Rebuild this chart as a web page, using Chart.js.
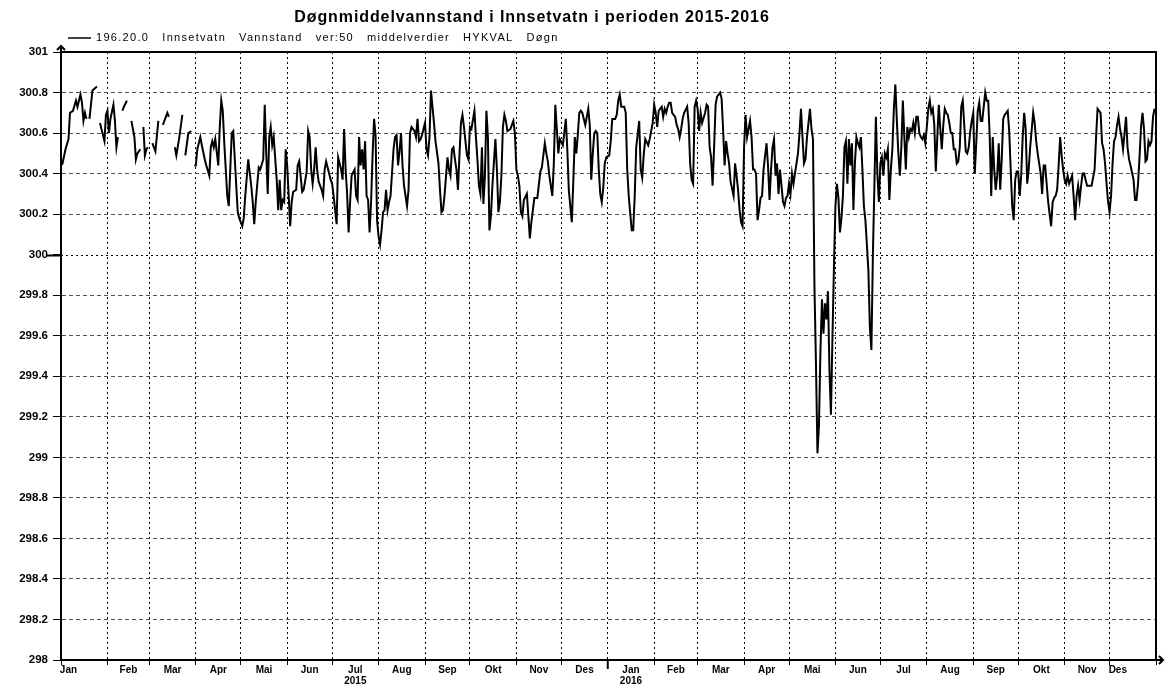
<!DOCTYPE html>
<html>
<head>
<meta charset="utf-8">
<title>Innsetvatn vannstand 2015-2016</title>
<script src="https://cdn.jsdelivr.net/npm/chart.js@4.4.1/dist/chart.umd.min.js"></script>
<style>
  html, body { margin: 0; padding: 0; background: #fff; }
  #wrap { width: 1165px; height: 684px; position: relative; }
</style>
</head>
<body>
<div id="wrap"><canvas id="levelChart"></canvas></div>
<script>
// --- Data (day index counted from 2015-01-01, null = missing data) ---
const chartTitle = 'Døgnmiddelvannstand i Innsetvatn i perioden 2015-2016';
const seriesName = '196.20.0   Innsetvatn   Vannstand   ver:50   middelverdier   HYKVAL   Døgn';

const monthNames = ['Jan', 'Feb', 'Mar', 'Apr', 'Mai', 'Jun', 'Jul', 'Aug', 'Sep', 'Okt', 'Nov', 'Des'];
const monthStarts = [0, 31, 59, 90, 120, 151, 181, 212, 243, 273, 304, 334,
                     365, 396, 425, 456, 486, 517, 547, 578, 609, 639, 670, 700, 731];
const yearLabels = { 6: '2015', 12: '2016' };   // month number (from Jan 2015) -> year text

const days = [
  0, 1, 3, 5, 6, 8, 10, 11, 13, 14, 15, 16, 17, 18, 19, 21, 24, 25, 26, 27, 29, 30,
  31, 32, 33, 35, 36, 37, 38, 39, 41, 42, 44, 45, 47, 49, 50, 51, 53, 54, 55, 56, 57, 58,
  59, 61, 63, 65, 66, 68, 70, 71, 72, 73, 76, 77, 79, 81, 82, 83, 85, 87, 88, 89,
  90, 91, 93, 94, 96, 97, 99, 100, 101, 102, 103, 105, 106, 107, 108, 109, 111, 112, 113, 114, 115, 117, 118, 119,
  120, 121, 122, 123, 125, 127, 128, 129, 130, 132, 133, 135, 136, 137, 138, 139, 140, 141, 142, 144, 145, 146, 147, 148, 149, 150,
  151, 153, 154, 155, 157, 158, 159, 161, 162, 164, 165, 166, 167, 168, 169, 170, 171, 172, 174, 175, 176, 177, 179, 180,
  181, 182, 184, 185, 187, 188, 189, 190, 191, 192, 193, 194, 196, 197, 198, 199, 200, 201, 202, 203, 204, 205, 206, 207, 208, 209, 210, 211,
  212, 213, 214, 215, 216, 217, 218, 219, 220, 222, 223, 224, 225, 226, 227, 228, 229, 231, 232, 233, 234, 236, 237, 238, 239, 240, 241,
  243, 244, 245, 246, 247, 248, 249, 250, 252, 253, 254, 255, 256, 258, 259, 260, 261, 262, 263, 264, 265, 266, 267, 268, 269, 271, 272,
  273, 274, 276, 277, 278, 279, 280, 281, 282, 283, 284, 285, 286, 287, 288, 290, 291, 292, 293, 294, 295, 296, 297, 298, 300, 301, 302, 303,
  304, 305, 306, 307, 308, 309, 311, 312, 313, 314, 315, 316, 318, 320, 321, 322, 323, 324, 325, 326, 327, 328, 329, 330, 331, 332, 333,
  335, 336, 337, 338, 339, 341, 342, 343, 344, 345, 346, 347, 348, 350, 351, 352, 353, 354, 355, 356, 357, 358, 359, 360, 361, 362, 363, 364,
  366, 367, 368, 370, 371, 372, 373, 374, 376, 377, 378, 379, 381, 382, 383, 384, 386, 387, 388, 389, 390, 392, 393, 394, 395,
  396, 397, 398, 399, 401, 402, 403, 404, 405, 406, 407, 408, 410, 411, 412, 413, 414, 415, 416, 418, 419, 420, 421, 422, 423, 424,
  425, 426, 427, 428, 430, 431, 432, 433, 434, 435, 436, 437, 438, 440, 441, 442, 443, 444, 445, 446, 447, 449, 450, 451, 452, 453, 454, 455,
  456, 457, 458, 459, 460, 461, 462, 463, 464, 465, 466, 467, 468, 469, 471, 472, 473, 474, 475, 476, 477, 478, 479, 480, 481, 482, 483, 484, 485,
  486, 487, 488, 489, 491, 492, 493, 494, 495, 496, 497, 498, 500, 501, 502, 503, 504, 505, 506, 507, 508, 509, 510, 511, 512, 513, 514, 515, 516,
  517, 518, 519, 520, 521, 522, 523, 524, 525, 526, 527, 528, 529, 530, 531, 532, 533, 534, 535, 536, 537, 538, 539, 540, 541, 542, 543, 544, 545, 546,
  547, 548, 549, 550, 551, 552, 553, 554, 555, 556, 557, 558, 559, 560, 561, 562, 563, 564, 565, 566, 567, 568, 569, 570, 571, 572, 573, 574, 575, 576, 577,
  578, 579, 580, 581, 582, 583, 584, 585, 586, 587, 588, 589, 590, 591, 592, 593, 594, 595, 596, 597, 598, 599, 600, 601, 602, 603, 604, 605, 606, 607, 608,
  609, 610, 611, 612, 613, 614, 615, 617, 618, 619, 620, 621, 622, 623, 624, 625, 626, 627, 628, 629, 630, 631, 632, 633, 634, 635, 636, 637, 638,
  639, 640, 641, 642, 643, 644, 645, 646, 647, 649, 650, 651, 652, 653, 654, 655, 656, 657, 658, 659, 661, 662, 663, 664, 665, 666, 667, 668, 669,
  670, 671, 672, 673, 674, 675, 676, 677, 678, 679, 680, 681, 682, 683, 684, 685, 686, 687, 688, 689, 690, 691, 692, 694, 695, 696, 697, 698, 699,
  700, 701, 702, 703, 704, 705, 706, 707, 708, 709, 710, 711, 712, 713, 714, 716, 717, 718, 719, 720, 721, 722, 723, 724, 725, 726, 727, 728, 729, 730
];

const level = [
  300.44, 300.45, 300.52, 300.57, 300.70, 300.71, 300.76, 300.73, 300.79, 300.75, 300.66, 300.70, 300.67, null, 300.67, 300.81, 300.83, null, 300.65, 300.62, 300.56, 300.69,
  300.71, 300.60, 300.67, 300.74, 300.66, 300.53, 300.58, null, 300.71, 300.73, 300.76, null, 300.66, 300.58, 300.47, 300.50, 300.52, null, 300.63, 300.49, 300.52, 300.53,
  null, 300.55, 300.51, 300.66, null, 300.64, 300.68, 300.70, 300.68, null, 300.53, 300.49, 300.58, 300.69, null, 300.49, 300.60, 300.61, null, 300.44,
  300.44, 300.52, 300.58, 300.54, 300.47, 300.44, 300.39, 300.53, 300.56, 300.53, 300.57, 300.44, 300.63, 300.76, 300.71, 300.55, 300.29, 300.24, 300.42, 300.60, 300.61, 300.34, 300.21, 300.18,
  300.16, 300.14, 300.18, 300.29, 300.47, 300.34, 300.26, 300.15, 300.26, 300.43, 300.42, 300.47, 300.74, 300.50, 300.30, 300.58, 300.63, 300.54, 300.58, 300.37, 300.22, 300.37, 300.22, 300.27, 300.26, 300.52,
  300.44, 300.14, 300.26, 300.31, 300.32, 300.44, 300.46, 300.31, 300.32, 300.41, 300.61, 300.58, 300.42, 300.35, 300.42, 300.53, 300.42, 300.36, 300.32, 300.29, 300.42, 300.46, 300.40, 300.37,
  300.35, 300.29, 300.15, 300.48, 300.42, 300.37, 300.62, 300.42, 300.30, 300.11, 300.26, 300.39, 300.42, 300.29, 300.27, 300.58, 300.44, 300.52, 300.42, 300.56, 300.29, 300.27, 300.11, 300.26, 300.49, 300.67, 300.59, 300.17,
  300.09, 300.05, 300.12, 300.21, 300.22, 300.32, 300.22, 300.26, 300.29, 300.52, 300.58, 300.59, 300.44, 300.51, 300.60, 300.44, 300.34, 300.24, 300.32, 300.60, 300.63, 300.61, 300.58, 300.67, 300.56, 300.57, 300.59,
  300.65, 300.52, 300.49, 300.58, 300.81, 300.73, 300.65, 300.56, 300.45, 300.32, 300.21, 300.22, 300.29, 300.48, 300.42, 300.39, 300.52, 300.53, 300.47, 300.42, 300.32, 300.49, 300.65, 300.69, 300.63, 300.49, 300.47,
  300.63, 300.62, 300.71, 300.58, 300.47, 300.34, 300.30, 300.53, 300.25, 300.39, 300.71, 300.58, 300.12, 300.19, 300.34, 300.57, 300.42, 300.21, 300.26, 300.39, 300.63, 300.69, 300.66, 300.61, 300.62, 300.64, 300.66, 300.60,
  300.42, 300.39, 300.34, 300.21, 300.19, 300.27, 300.30, 300.19, 300.08, 300.16, 300.22, 300.28, 300.28, 300.41, 300.43, 300.49, 300.55, 300.50, 300.46, 300.39, 300.34, 300.29, 300.45, 300.74, 300.62, 300.50, 300.57,
  300.54, 300.60, 300.67, 300.52, 300.32, 300.16, 300.36, 300.58, 300.50, 300.59, 300.70, 300.71, 300.70, 300.64, 300.68, 300.72, 300.64, 300.37, 300.50, 300.60, 300.61, 300.60, 300.42, 300.30, 300.26, 300.33, 300.45, 300.48,
  300.49, 300.56, 300.67, 300.67, 300.69, 300.76, 300.79, 300.73, 300.73, 300.70, 300.42, 300.29, 300.12, 300.12, 300.29, 300.53, 300.66, 300.42, 300.38, 300.49, 300.57, 300.54, 300.57, 300.61, 300.65,
  300.74, 300.70, 300.63, 300.71, 300.73, 300.68, 300.72, 300.70, 300.73, 300.75, 300.75, 300.70, 300.68, 300.64, 300.62, 300.58, 300.62, 300.67, 300.70, 300.73, 300.65, 300.45, 300.37, 300.35, 300.73, 300.76,
  300.72, 300.61, 300.70, 300.65, 300.70, 300.74, 300.73, 300.53, 300.48, 300.34, 300.53, 300.74, 300.78, 300.80, 300.77, 300.62, 300.44, 300.56, 300.50, 300.45, 300.36, 300.29, 300.45, 300.39, 300.32, 300.22, 300.16, 300.14,
  300.53, 300.69, 300.58, 300.62, 300.66, 300.58, 300.42, 300.42, 300.40, 300.17, 300.22, 300.28, 300.29, 300.42, 300.55, 300.44, 300.27, 300.42, 300.53, 300.57, 300.39, 300.45, 300.30, 300.42, 300.34, 300.26, 300.24, 300.28, 300.29,
  300.35, 300.30, 300.40, 300.35, 300.45, 300.50, 300.60, 300.72, 300.58, 300.45, 300.47, 300.58, 300.72, 300.62, 300.57, 299.84, 299.46, 299.02, 299.16, 299.53, 299.78, 299.61, 299.76, 299.68, 299.82, 299.43, 299.21, 299.59, 299.94,
  300.24, 300.35, 300.28, 300.11, 300.18, 300.29, 300.53, 300.56, 300.35, 300.57, 300.44, 300.55, 300.22, 300.45, 300.58, 300.55, 300.53, 300.58, 300.42, 300.24, 300.17, 300.05, 299.92, 299.64, 299.53, 300.00, 300.34, 300.68, 300.40, 300.26,
  300.45, 300.48, 300.39, 300.50, 300.48, 300.52, 300.27, 300.42, 300.52, 300.72, 300.84, 300.66, 300.50, 300.39, 300.53, 300.76, 300.58, 300.42, 300.63, 300.58, 300.62, 300.61, 300.65, 300.60, 300.68, 300.68, 300.60, 300.58, 300.57, 300.59, 300.55,
  300.63, 300.72, 300.76, 300.70, 300.72, 300.64, 300.41, 300.58, 300.74, 300.62, 300.52, 300.64, 300.72, 300.70, 300.69, 300.65, 300.60, 300.60, 300.52, 300.52, 300.45, 300.46, 300.53, 300.73, 300.76, 300.64, 300.51, 300.50, 300.53, 300.61, 300.66,
  300.70, 300.40, 300.55, 300.71, 300.75, 300.66, 300.66, 300.80, 300.76, 300.76, 300.58, 300.29, 300.58, 300.42, 300.32, 300.39, 300.55, 300.32, 300.47, 300.67, 300.69, 300.70, 300.71, 300.61, 300.42, 300.24, 300.17, 300.37, 300.41,
  300.41, 300.29, 300.39, 300.58, 300.70, 300.62, 300.35, 300.42, 300.53, 300.70, 300.65, 300.56, 300.50, 300.45, 300.40, 300.30, 300.44, 300.44, 300.35, 300.26, 300.14, 300.26, 300.28, 300.29, 300.32, 300.44, 300.58, 300.49, 300.42,
  300.37, 300.35, 300.39, 300.35, 300.37, 300.39, 300.29, 300.17, 300.29, 300.34, 300.27, 300.34, 300.40, 300.40, 300.37, 300.34, 300.34, 300.34, 300.34, 300.38, 300.42, 300.58, 300.72, 300.70, 300.55, 300.52, 300.45, 300.35, 300.26,
  300.21, 300.29, 300.45, 300.56, 300.58, 300.64, 300.68, 300.62, 300.58, 300.52, 300.60, 300.68, 300.53, 300.47, 300.44, 300.37, 300.27, 300.27, 300.35, 300.48, 300.63, 300.70, 300.62, 300.46, 300.47, 300.56, 300.54, 300.56, 300.68, 300.72
];

document.addEventListener('DOMContentLoaded', function() {
    const ctx = document.getElementById('levelChart');

    // month labels sit in the middle of each month, first/last pulled inwards
    const labelDays = [];
    const labelText = new Map();
    for (let m = 0; m < monthStarts.length - 1; m++) {
        let mid = (monthStarts[m] + monthStarts[m + 1]) / 2;
        if (m === 0) mid = monthStarts[0] + 5;
        if (m === monthStarts.length - 2) mid = monthStarts[m] + 5.5;
        labelDays.push(mid);
        const name = monthNames[m % 12];
        labelText.set(mid, yearLabels[m] ? [name, yearLabels[m]] : name);
    }
    const isMonthStart = v => monthStarts.includes(v);
    const near = (a, b) => Math.abs(a - b) < 1e-6;

    // frame, arrows, the dotted zero line, title and legend
    const framePlugin = {
        id: 'frame',
        beforeDatasetsDraw: chart => {
            const { ctx, chartArea: a, scales: { y } } = chart;
            const y300 = Math.round(y.getPixelForValue(300)) + 0.5;
            ctx.save();
            ctx.strokeStyle = '#000';
            ctx.lineWidth = 1;
            ctx.setLineDash([2, 3]);
            ctx.beginPath();
            ctx.moveTo(a.left, y300);
            ctx.lineTo(a.right, y300);
            ctx.stroke();
            ctx.setLineDash([]);
            ctx.lineWidth = 2;
            ctx.beginPath();
            ctx.moveTo(a.left - 14, y300);
            ctx.lineTo(a.left, y300);
            ctx.stroke();
            ctx.restore();
        },
        afterDraw: chart => {
            const { ctx, chartArea: a } = chart;
            ctx.save();
            ctx.strokeStyle = '#000';
            ctx.lineWidth = 2;
            ctx.beginPath();
            ctx.moveTo(a.left, a.top);
            ctx.lineTo(a.right, a.top);
            ctx.lineTo(a.right, a.bottom);
            ctx.stroke();

            // arrow on top of the y axis
            ctx.beginPath();
            ctx.moveTo(a.left, a.top);
            ctx.lineTo(a.left, a.top - 6);
            ctx.moveTo(a.left - 4, a.top - 2);
            ctx.lineTo(a.left, a.top - 6);
            ctx.lineTo(a.left + 4, a.top - 2);
            ctx.stroke();
            // arrow at the end of the x axis
            ctx.beginPath();
            ctx.moveTo(a.right, a.bottom);
            ctx.lineTo(a.right + 7, a.bottom);
            ctx.moveTo(a.right + 3, a.bottom - 4);
            ctx.lineTo(a.right + 7, a.bottom);
            ctx.lineTo(a.right + 3, a.bottom + 4);
            ctx.stroke();
            // long tick at the year change
            const x2016 = chart.scales.x.getPixelForValue(365);
            ctx.beginPath();
            ctx.moveTo(x2016, a.bottom);
            ctx.lineTo(x2016, a.bottom + 9);
            ctx.stroke();

            // title
            ctx.fillStyle = '#000';
            ctx.textBaseline = 'middle';
            ctx.textAlign = 'center';
            ctx.font = 'bold 16px "Liberation Sans", Arial, sans-serif';
            ctx.letterSpacing = '0.9px';
            ctx.fillText(chartTitle, 532, 18);

            // legend
            ctx.lineWidth = 1.5;
            ctx.beginPath();
            ctx.moveTo(68, 38);
            ctx.lineTo(91, 38);
            ctx.stroke();
            ctx.textAlign = 'left';
            ctx.font = '11px "Liberation Sans", Arial, sans-serif';
            ctx.letterSpacing = '1.3px';
            ctx.fillText(seriesName, 96, 38);
            ctx.letterSpacing = '0px';
            ctx.restore();
        }
    };

    new Chart(ctx, {
        type: 'line',
        data: {
            datasets: [{
                label: seriesName,
                data: days.map((d, i) => ({ x: d, y: level[i] })),
                borderColor: '#000',
                borderWidth: 2,
                pointRadius: 0,
                tension: 0,
                spanGaps: false,
                fill: false
            }]
        },
        options: {
            responsive: true,
            maintainAspectRatio: false,
            animation: false,
            layout: {
                padding: { top: 52, right: 9, left: 0, bottom: 0 }
            },
            plugins: {
                legend: { display: false },
                tooltip: { enabled: false }
            },
            scales: {
                x: {
                    type: 'linear',
                    min: 0,
                    max: 731,
                    afterBuildTicks: scale => {
                        const t = monthStarts.concat(labelDays).sort((a, b) => a - b);
                        scale.ticks = t.map(v => ({ value: v }));
                    },
                    afterFit: scale => { scale.height = 24; },
                    ticks: {
                        autoSkip: false,
                        maxRotation: 0,
                        padding: 0,
                        color: '#000',
                        font: { family: '"Liberation Sans", Arial, sans-serif', size: 10, weight: 'bold', lineHeight: 1.05 },
                        callback: value => labelText.has(value) ? labelText.get(value) : ''
                    },
                    grid: {
                        color: c => (c.tick && isMonthStart(c.tick.value)) ? '#000' : 'rgba(0,0,0,0)',
                        tickColor: c => (c.tick && isMonthStart(c.tick.value)) ? '#000' : 'rgba(0,0,0,0)',
                        tickLength: 5,
                        lineWidth: 1
                    },
                    border: { display: true, color: '#000', width: 2, dash: [2, 3] }
                },
                y: {
                    min: 298,
                    max: 301,
                    afterFit: scale => { scale.width = 61; },
                    ticks: {
                        stepSize: 0.2,
                        padding: 5,
                        color: '#000',
                        font: { family: '"Liberation Sans", Arial, sans-serif', size: 11.5, weight: 'bold' },
                        callback: value => String(Number(value.toFixed(1)))
                    },
                    grid: {
                        color: c => (c.tick && (near(c.tick.value, 300) || near(c.tick.value, 301))) ? 'rgba(0,0,0,0)' : '#555',
                        tickColor: '#000',
                        tickLength: 8,
                        lineWidth: 1
                    },
                    border: { display: true, color: '#000', width: 2, dash: [4, 3] }
                }
            }
        },
        plugins: [framePlugin]
    });
});
</script>
</body>
</html>
